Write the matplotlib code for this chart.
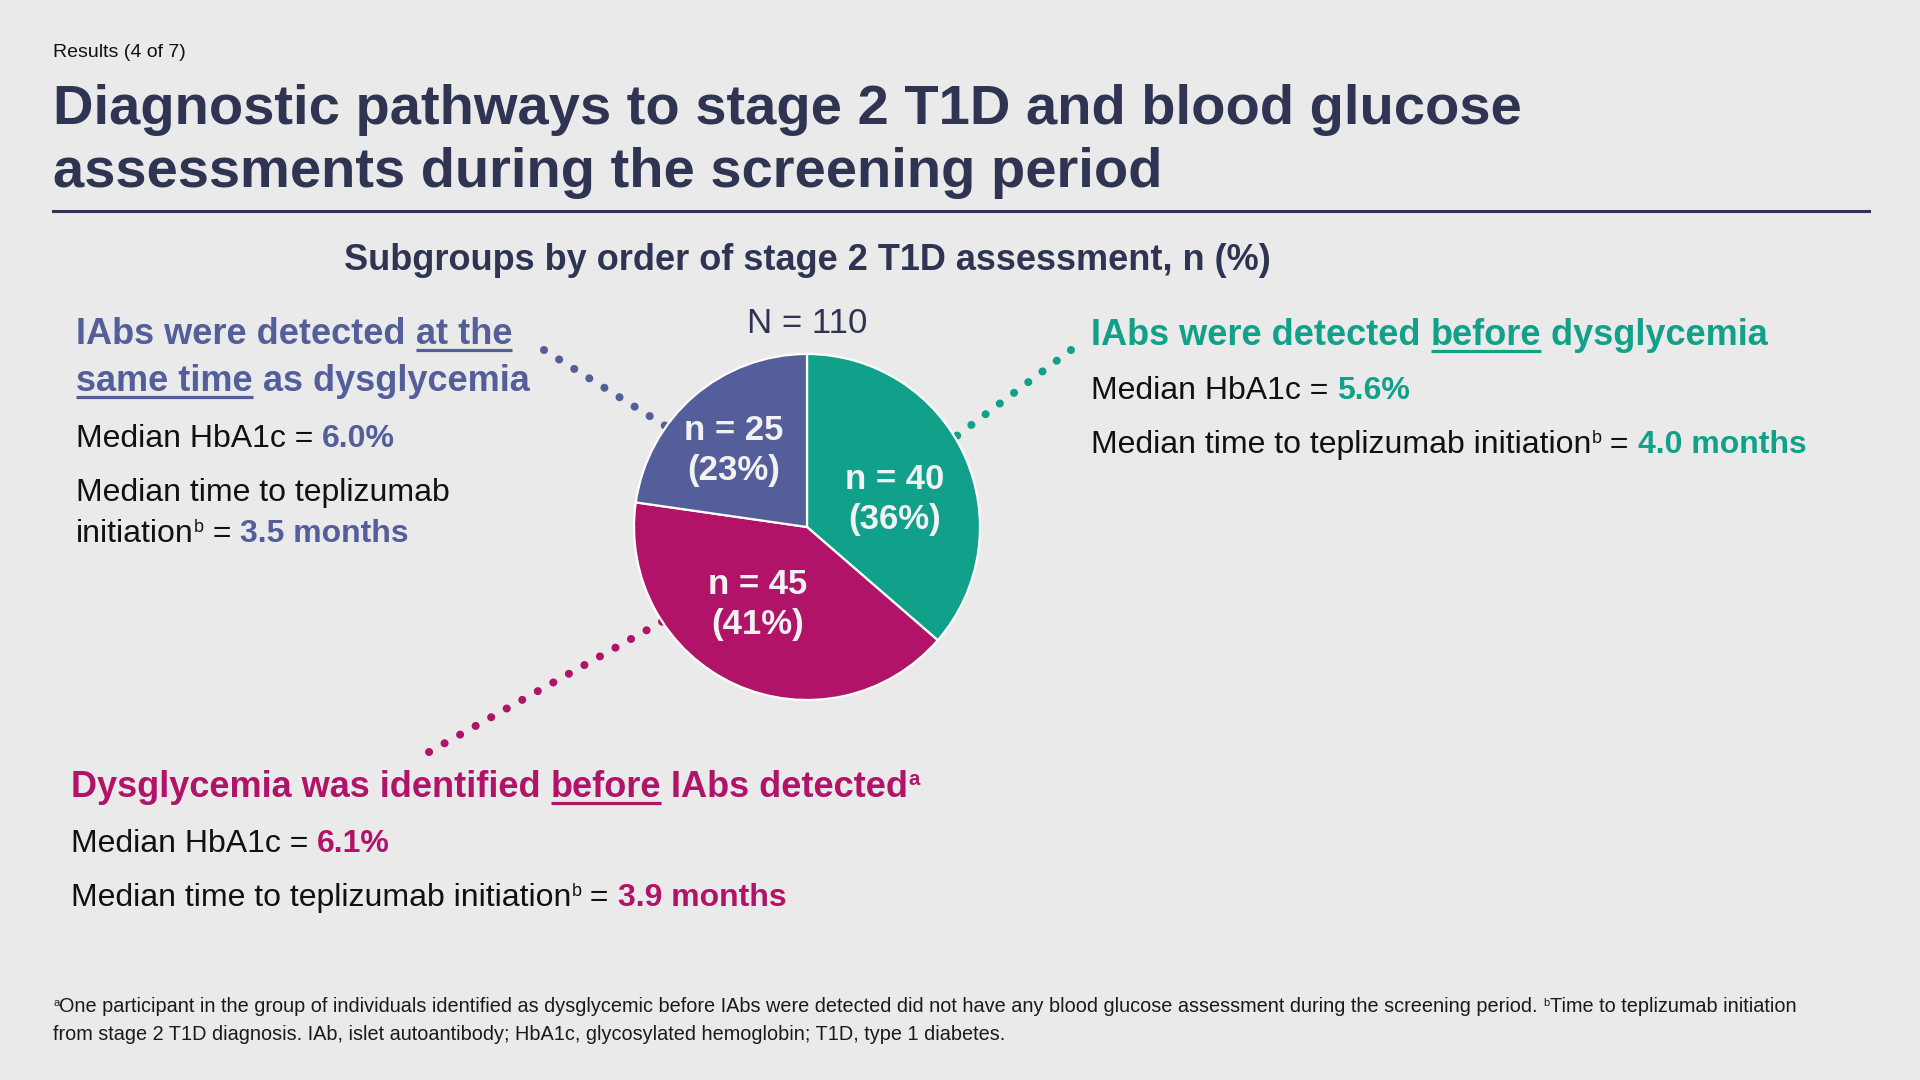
import matplotlib
matplotlib.use("Agg")
import matplotlib.pyplot as plt

plt.rcParams["font.family"] = ["Liberation Sans", "DejaVu Sans"]

# data
group_names = ["IAbs before dysglycemia", "Dysglycemia before IAbs", "IAbs same time"]
counts = [40, 45, 25]
hba1c_median = ["5.6%", "6.1%", "6.0%"]
months_median = ["4.0", "3.9", "3.5"]
n_total = sum(counts)

BG = "#EAEAEA"
NAVY = "#2E3452"
TEAL = "#11A08A"
MAGENTA = "#B01368"
PURPLE = "#535E9A"
BODY = "#111111"
slice_colors = [TEAL, MAGENTA, PURPLE]

fig = plt.figure(figsize=(19.2, 10.8), dpi=100, facecolor=BG)
ax = fig.add_axes([0, 0, 1, 1], zorder=0)
ax.set_xlim(0, 1920)
ax.set_ylim(1080, 0)
ax.axis("off")
ax.set_facecolor(BG)
renderer = fig.canvas.get_renderer()


def text_width(s, **kw):
    t1 = ax.text(0, 0, s + "|", **kw)
    t2 = ax.text(0, 0, "|", **kw)
    w = t1.get_window_extent(renderer).width - t2.get_window_extent(renderer).width
    t1.remove()
    t2.remove()
    return w


def draw_runs(x, y, parts, size):
    # parts: (text, color, bold, underline, superscript)
    for s, color, bold, ul, sup in parts:
        fs = size * 0.56 if sup else size
        yy = y - size * 1.389 * 0.32 if sup else y
        kw = dict(fontsize=fs, color=color, fontweight="bold" if bold else "normal")
        ax.text(x, yy, s, va="baseline", ha="left", **kw)
        w = text_width(s, **kw)
        if ul:
            uy = y + size * 1.389 * 0.17
            ax.plot([x, x + w], [uy, uy], color=color, lw=2.3, solid_capstyle="butt")
        x += w


# header
ax.text(53, 57, "Results (4 of 7)", fontsize=14, color=BODY, va="baseline")
ax.text(53, 124, "Diagnostic pathways to stage 2 T1D and blood glucose",
        fontsize=40.4, fontweight="bold", color=NAVY, va="baseline")
ax.text(53, 187, "assessments during the screening period",
        fontsize=40.4, fontweight="bold", color=NAVY, va="baseline")
ax.plot([53, 1869], [211, 211], color=NAVY, lw=2.2)

ax.text(807, 270, "Subgroups by order of stage 2 T1D assessment, n (%)",
        fontsize=26, fontweight="bold", color=NAVY, va="baseline", ha="center")
ax.text(807, 333, f"N = {n_total}", fontsize=25, color=NAVY, va="baseline", ha="center")

# dotted connectors (partly hidden behind the pie)
dot = dict(lw=5.8, linestyle=(0, (0.01, 2.2)), dash_capstyle="round")
ax.plot([544, 680], [350, 435], color=PURPLE, **dot)
ax.plot([1071, 950], [350, 441], color=TEAL, **dot)
ax.plot([429, 690], [752, 606], color=MAGENTA, **dot)

# pie
cx, cy, r = 807, 527, 173
box = 178
pax = fig.add_axes([(cx - box) / 1920, (1080 - cy - box) / 1080, 2 * box / 1920, 2 * box / 1080], zorder=1)
pax.pie(counts, colors=slice_colors, startangle=90, counterclock=False, radius=r / box,
        wedgeprops=dict(edgecolor="white", linewidth=1.6))
pax.set_xlim(-1, 1)
pax.set_ylim(-1, 1)
pax.patch.set_alpha(0)
label_pos = [(0.49, 0.155), (-0.28, -0.435), (-0.41, 0.43)]
for n, (lx, ly) in zip(counts, label_pos):
    pax.text(lx, ly, f"n = {n}\n({round(100 * n / n_total)}%)", ha="center", va="center",
             fontsize=25, fontweight="bold", color="#F2F2F2", linespacing=1.3)

# left block (same time)
HS, BS = 26, 23
draw_runs(76, 344, [("IAbs were detected ", PURPLE, True, False, False),
                    ("at the", PURPLE, True, True, False)], HS)
draw_runs(76, 391, [("same time", PURPLE, True, True, False),
                    (" as dysglycemia", PURPLE, True, False, False)], HS)
draw_runs(76, 447, [("Median HbA1c = ", BODY, False, False, False),
                    (hba1c_median[2], PURPLE, True, False, False)], BS)
draw_runs(76, 501, [("Median time to teplizumab", BODY, False, False, False)], BS)
draw_runs(76, 542, [("initiation", BODY, False, False, False),
                    ("b", BODY, False, False, True),
                    (" = ", BODY, False, False, False),
                    (f"{months_median[2]} months", PURPLE, True, False, False)], BS)

# right block (before)
draw_runs(1091, 345, [("IAbs were detected ", TEAL, True, False, False),
                      ("before", TEAL, True, True, False),
                      (" dysglycemia", TEAL, True, False, False)], HS)
draw_runs(1091, 399, [("Median HbA1c = ", BODY, False, False, False),
                      (hba1c_median[0], TEAL, True, False, False)], BS)
draw_runs(1091, 453, [("Median time to teplizumab initiation", BODY, False, False, False),
                      ("b", BODY, False, False, True),
                      (" = ", BODY, False, False, False),
                      (f"{months_median[0]} months", TEAL, True, False, False)], BS)

# bottom block (dysglycemia first)
draw_runs(71, 797, [("Dysglycemia was identified ", MAGENTA, True, False, False),
                    ("before", MAGENTA, True, True, False),
                    (" IAbs detected", MAGENTA, True, False, False),
                    ("a", MAGENTA, True, False, True)], HS)
draw_runs(71, 852, [("Median HbA1c = ", BODY, False, False, False),
                    (hba1c_median[1], MAGENTA, True, False, False)], BS)
draw_runs(71, 906, [("Median time to teplizumab initiation", BODY, False, False, False),
                    ("b", BODY, False, False, True),
                    (" = ", BODY, False, False, False),
                    (f"{months_median[1]} months", MAGENTA, True, False, False)], BS)

# footnotes
FS = 14.3
FN = "#1A1A1A"
draw_runs(53, 1012, [("a", FN, False, False, True),
                     ("One participant in the group of individuals identified as dysglycemic before IAbs "
                      "were detected did not have any blood glucose assessment during the screening period. ",
                      FN, False, False, False),
                     ("b", FN, False, False, True),
                     ("Time to teplizumab initiation", FN, False, False, False)], FS)
draw_runs(53, 1040, [("from stage 2 T1D diagnosis. IAb, islet autoantibody; HbA1c, glycosylated hemoglobin; "
                      "T1D, type 1 diabetes.", FN, False, False, False)], FS)

fig.savefig("out.png", dpi=100, facecolor=BG)
